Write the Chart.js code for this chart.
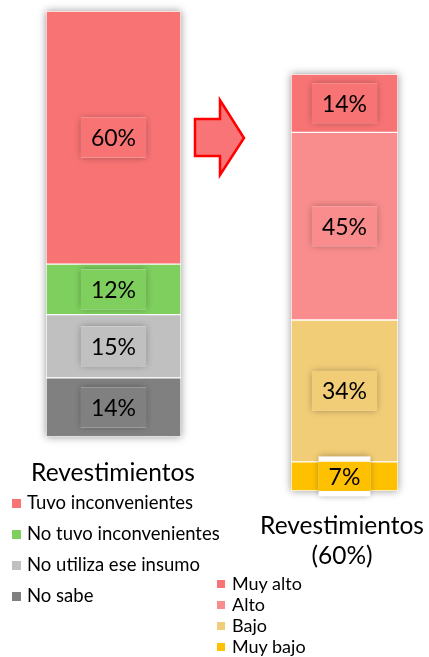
<!DOCTYPE html>
<html>
<head>
<meta charset="utf-8">
<script src="https://cdn.jsdelivr.net/npm/chart.js@4.4.0/dist/chart.umd.min.js"></script>
<style>
  body { margin: 0; width: 429px; height: 657px; background: #fff; position: relative; overflow: hidden; font-family: Lato, sans-serif; color: #000; }
  canvas { position: absolute; }
  .t { position: absolute; white-space: nowrap; line-height: 1; }
  .sq { position: absolute; }
</style>
</head>
<body>
<canvas id="usoChart" width="175" height="450" style="left:26px;top:0px"></canvas>
<canvas id="nivelChart" width="147" height="460" style="left:271px;top:50px"></canvas>
<svg width="429" height="657" style="position:absolute;left:0;top:0">
  <polygon points="195,119 220,119 220,100 244,138 220,175 220,156 195,156" fill="#F87476" stroke="#FF0000" stroke-width="2.5" stroke-linejoin="miter"/>
</svg>
<div id="legends"></div>
<script>
// data
const usoCats = ["Tuvo inconvenientes", "No tuvo inconvenientes", "No utiliza ese insumo", "No sabe"];
const usoValues = [60, 12, 15, 14];
const nivelCats = ["Muy alto", "Alto", "Bajo", "Muy bajo"];
const nivelValues = [14, 45, 34, 7];
const usoTitle = ["Revestimientos"];
const nivelTitle = ["Revestimientos", "(60%)"];

// colours
const usoColors = ["#F87374", "#7ECF5E", "#C0C0C0", "#808080"];
const nivelColors = ["#F87374", "#F98D8D", "#F2CD78", "#FFC000"];

function makeDatasets(cats, vals, cols) {
  // first category sits on top of the stack
  return cats.map((c, i) => ({
    label: c,
    data: [vals[i]],
    backgroundColor: cols[i],
    borderColor: '#fff',
    borderWidth: 1,
    borderSkipped: false,
    barPercentage: 1,
    categoryPercentage: 1
  })).reverse();
}

const barShadow = {
  id: 'barShadow',
  beforeDatasetsDraw(chart) {
    const { ctx, chartArea } = chart;
    ctx.save();
    ctx.shadowColor = 'rgba(0,0,0,0.4)';
    ctx.shadowBlur = 8;
    ctx.fillStyle = '#fff';
    ctx.fillRect(chartArea.left, chartArea.top, chartArea.right - chartArea.left, chartArea.bottom - chartArea.top);
    ctx.restore();
  }
};

const boxLabels = {
  id: 'boxLabels',
  afterDatasetsDraw(chart) {
    const ctx = chart.ctx;
    chart.data.datasets.forEach((ds, i) => {
      const bar = chart.getDatasetMeta(i).data[0];
      const p = bar.getProps(['x', 'y', 'base', 'width'], true);
      const top = Math.min(p.y, p.base), bot = Math.max(p.y, p.base);
      const cy = (top + bot) / 2;
      const txt = ds.data[0] + '%';
      ctx.font = '23px Lato';
      const bw = ctx.measureText(txt).width + 20, bh = 40;
      const bx = p.x - bw / 2, by = cy - bh / 2;
      ctx.save();
      ctx.shadowColor = 'rgba(0,0,0,0.35)';
      ctx.shadowBlur = 7;
      ctx.fillStyle = '#fff';
      ctx.fillRect(bx, by, bw, bh);
      ctx.restore();
      ctx.save();
      ctx.beginPath();
      ctx.rect(p.x - p.width / 2, top, p.width, bot - top);
      ctx.clip();
      ctx.fillStyle = ds.backgroundColor;
      ctx.fillRect(bx, by, bw, bh);
      ctx.restore();
      ctx.fillStyle = '#000';
      ctx.textAlign = 'center';
      ctx.textBaseline = 'middle';
      ctx.fillText(txt, p.x, cy + 1);
    });
  }
};

function makeChart(id, cats, vals, cols, padding) {
  const total = vals.reduce((a, b) => a + b, 0);
  return new Chart(document.getElementById(id), {
    type: 'bar',
    data: { labels: [''], datasets: makeDatasets(cats, vals, cols) },
    options: {
      responsive: false,
      animation: false,
      devicePixelRatio: 1,
      layout: { padding },
      scales: {
        x: { stacked: true, display: false },
        y: { stacked: true, display: false, min: 0, max: total }
      },
      plugins: { legend: { display: false }, tooltip: { enabled: false } }
    },
    plugins: [barShadow, boxLabels]
  });
}

makeChart('usoChart', usoCats, usoValues, usoColors, { left: 20, right: 20, top: 11, bottom: 13 });
makeChart('nivelChart', nivelCats, nivelValues, nivelColors, { left: 20, right: 20, top: 24, bottom: 19 });

// titles and legends as html text
const box = document.getElementById('legends');
function addText(txt, x, y, size, center) {
  const d = document.createElement('div');
  d.className = 't';
  d.textContent = txt;
  d.style.fontSize = size + 'px';
  d.style.top = y + 'px';
  if (center) { d.style.left = (x - 150) + 'px'; d.style.width = '300px'; d.style.textAlign = 'center'; }
  else d.style.left = x + 'px';
  box.appendChild(d);
}
function addSquare(x, y, s, col) {
  const d = document.createElement('div');
  d.className = 'sq';
  d.style.cssText = `left:${x}px;top:${y}px;width:${s}px;height:${s}px;background:${col}`;
  box.appendChild(d);
}

usoTitle.forEach((t, i) => addText(t, 113, 460 + i * 30, 24.5, true));
nivelTitle.forEach((t, i) => addText(t, 342, 513 + i * 30, 24.5, true));

usoCats.forEach((c, i) => {
  addText(c, 27, 493 + i * 31, 18.5, false);
  addSquare(12, 499 + i * 31, 9, usoColors[i]);
});
nivelCats.forEach((c, i) => {
  addText(c, 232, 574 + i * 21, 18, false);
  addSquare(217, 580 + i * 21, 8, nivelColors[i]);
});
</script>
</body>
</html>
